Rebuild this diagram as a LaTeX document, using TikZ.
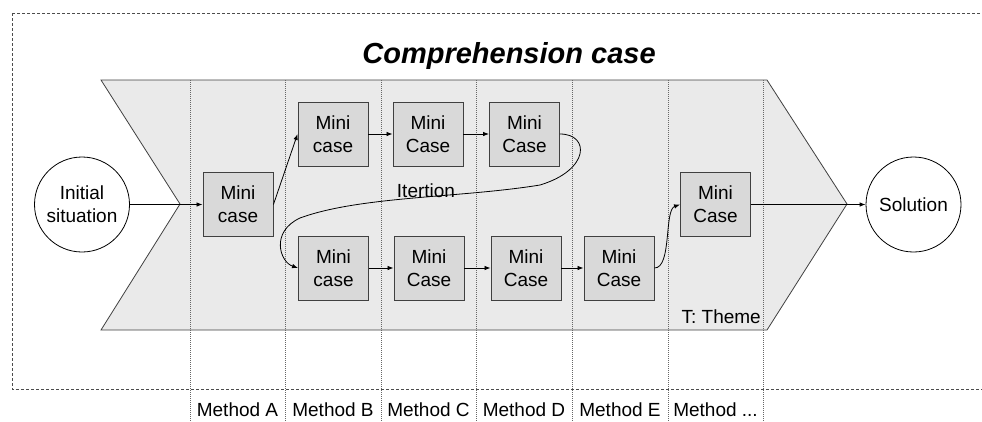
\documentclass[tikz,border=0pt]{standalone}
\usepackage{fontspec}
\setmainfont{Liberation Sans}
\usetikzlibrary{arrows.meta}
\definecolor{chev}{HTML}{EAEAEA}
\definecolor{boxfill}{HTML}{D9D9D9}
\definecolor{edge}{HTML}{404040}
\tikzset{
  mini/.style={draw=edge, fill=boxfill, line width=0.9pt, minimum width=70pt, minimum height=64pt, inner sep=0pt, align=center, font=\fontsize{19}{23}\selectfont},
  endpt/.style={circle, draw=black, fill=white, line width=0.8pt, minimum size=95pt, inner sep=0pt, align=center, font=\fontsize{19}{23}\selectfont},
  conn/.style={line width=0.8pt, -{Latex[length=6pt,width=4.5pt]}},
  lane/.style={draw=black!60, line width=0.7pt, dash pattern=on 1pt off 1pt},
  lbl/.style={font=\fontsize{19}{23}\selectfont, inner sep=0pt},
}
\begin{document}
\begin{tikzpicture}[x=1pt,y=-1pt]
\useasboundingbox (0,0) rectangle (982,421);
% outer dashed frame
\draw[draw=black!70, line width=0.8pt, dash pattern=on 3pt off 2pt] (12,13) rectangle (995,389);
% title
\node[anchor=base, inner sep=0pt, font=\fontsize{29}{34}\selectfont\bfseries\itshape] (title) at (509,63) {Comprehension case};
% chevron
\draw[fill=chev, draw=black!75, line width=0.8pt] (101,80) -- (767,80) -- (847,204) -- (767,330) -- (101,330) -- (180,204) -- cycle;
\coordinate (notch) at (180,204);
% lanes
\foreach \x in {190,285,381,476,572,668,763} \draw[lane] (\x,80) -- (\x,421);
% method labels
\node[lbl, anchor=base] (mA) at (237.5,416.5) {Method A};
\node[lbl, anchor=base] (mB) at (333,416.5) {Method B};
\node[lbl, anchor=base] (mC) at (428.5,416.5) {Method C};
\node[lbl, anchor=base] (mD) at (524,416.5) {Method D};
\node[lbl, anchor=base] (mE) at (620,416.5) {Method E};
\node[lbl, anchor=base] (mF) at (715.5,416.5) {Method ...};
% theme label
\node[lbl, anchor=base east] (theme) at (761,323) {T: Theme};
% nodes
\node[endpt] (init) at (82,204.5) {Initial\\situation};
\node[endpt] (sol) at (913.5,204.5) {Solution};
\node[mini] (m0) at (238,204.5) {Mini\\case};
\node[mini] (t1) at (333,134) {Mini\\case};
\node[mini] (t2) at (428,134) {Mini\\Case};
\node[mini] (t3) at (524.5,134) {Mini\\Case};
\node[mini] (b1) at (333.5,268) {Mini\\case};
\node[mini] (b2) at (429,268) {Mini\\Case};
\node[mini] (b3) at (526,268) {Mini\\Case};
\node[mini] (b4) at (619,268) {Mini\\Case};
\node[mini] (r1) at (715.5,204.5) {Mini\\Case};
\node[lbl, anchor=base] (iter) at (426,197) {Itertion};
% connectors
\draw[conn] (init.east) -- (m0.west);
\draw[conn] (m0.east) -- (t1.west);
\draw[conn] (t1) -- (t2);
\draw[conn] (t2) -- (t3);
\draw[conn] (t3.east) .. controls (590,134) and (590,170) .. (540,185)
   .. controls (460,198) and (360,196) .. (300,218)
   .. controls (270,232) and (280,262) .. (b1.west);
\draw[conn] (b1) -- (b2);
\draw[conn] (b2) -- (b3);
\draw[conn] (b3) -- (b4);
\draw[conn] (b4.east) .. controls (672,268) and (664,210) .. (r1.west);
\draw[conn] (r1.east) -- (sol.west);
\end{tikzpicture}
\end{document}
